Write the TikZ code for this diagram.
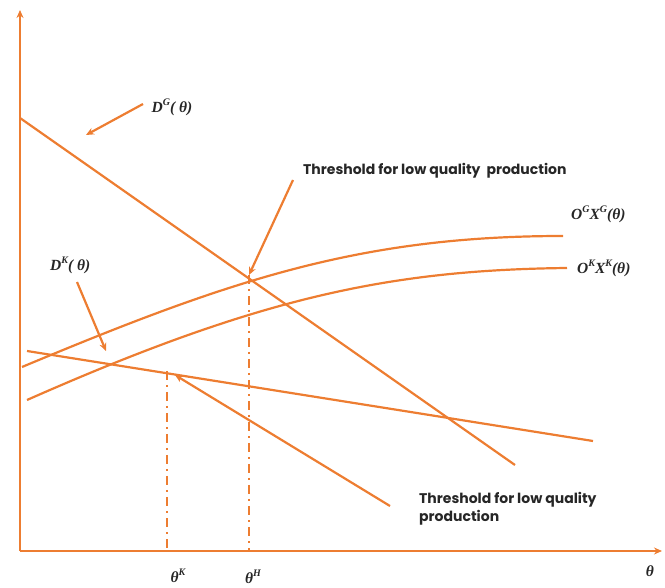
\documentclass[tikz,border=0pt]{standalone}
\usepackage{fontspec}
\setmainfont{Poppins}
\newfontfamily\mlabfont{Liberation Serif}
\usetikzlibrary{arrows.meta}
\definecolor{org}{RGB}{237,125,49}
\definecolor{txt}{RGB}{38,38,38}
\newcommand{\sps}[1]{\raisebox{0.45em}{\fontsize{10}{10}\selectfont #1}}
\tikzset{
  curve/.style={draw=org, line width=2.2pt},
  axis/.style={draw=org, line width=2.2pt, -{Stealth[length=8pt,width=7pt]}},
  ptr/.style={draw=org, line width=2.2pt, -{Stealth[length=8pt,width=7pt]}},
  guide/.style={draw=org, line width=2.4pt, dash pattern=on 9pt off 5pt on 2pt off 5pt},
  mlab/.style={text=txt, font=\mlabfont\bfseries\itshape\fontsize{15.5}{17}\selectfont, inner sep=0pt},
  tlab/.style={text=txt, font=\fontsize{14}{18}\selectfont\bfseries, inner sep=0pt, align=left}
}
\begin{document}
\begin{tikzpicture}[x=1pt,y=-1pt]
\useasboundingbox (0,0) rectangle (665,588);
% axes
\coordinate (O) at (20,551);
\coordinate (ytop) at (20,10);
\coordinate (xend) at (662,551);
\draw[axis] (O) -- (ytop);
\draw[axis] (O) -- (xend);
% demand lines
\coordinate (DGa) at (20,118);
\coordinate (DGb) at (515,465);
\draw[curve] (DGa) -- (DGb);
\coordinate (DKa) at (27,351);
\coordinate (DKb) at (593,441);
\draw[curve] (DKa) -- (DKb);
% supply curves
\coordinate (OGa) at (22,367);
\coordinate (OGb) at (563,236);
\draw[curve] (OGa) .. controls (230,280) and (360,236) .. (OGb);
\coordinate (OKa) at (27,400);
\coordinate (OKb) at (567,268);
\draw[curve] (OKa) .. controls (260,297) and (390,270) .. (OKb);
% guides
\coordinate (H) at (249,275);
\coordinate (Hb) at (249,551);
\coordinate (K) at (167,371);
\coordinate (Kb) at (167,551);
\draw[guide] (H) -- (Hb);
\draw[guide] (K) -- (Kb);
% labels
\node[mlab, anchor=center] (lDG) at (172,107) {D\sps{G}( θ)};
\node[mlab, anchor=west] (lDK) at (50,265) {D\sps{K}( θ)};
\node[mlab, anchor=west] (lOG) at (571,214) {O\sps{G}X\sps{G}(θ)};
\node[mlab, anchor=west] (lOK) at (577,268) {O\sps{K}X\sps{K}(θ)};
\node[mlab] (tK) at (178,576) {θ\sps{K}};
\node[mlab] (tH) at (253,577) {θ\sps{H}};
\node[mlab] (t) at (650,571) {θ};
\node[tlab, anchor=west] (thr1) at (303,171) {Threshold for low quality\ \ production};
\node[tlab, anchor=north west] (thr2) at (419,492) {Threshold for low quality\\production};
% pointer arrows
\coordinate (pDGs) at (143,104);
\coordinate (pDGe) at (86,135);
\draw[ptr] (pDGs) -- (pDGe);
\coordinate (pDKs) at (77,282);
\coordinate (pDKe) at (106,351);
\draw[ptr] (pDKs) -- (pDKe);
\coordinate (pT1s) at (293,180);
\draw[ptr] (pT1s) -- (H);
\coordinate (pT2s) at (390,506);
\coordinate (pT2e) at (175,375);
\draw[ptr] (pT2s) -- (pT2e);
\end{tikzpicture}
\end{document}
